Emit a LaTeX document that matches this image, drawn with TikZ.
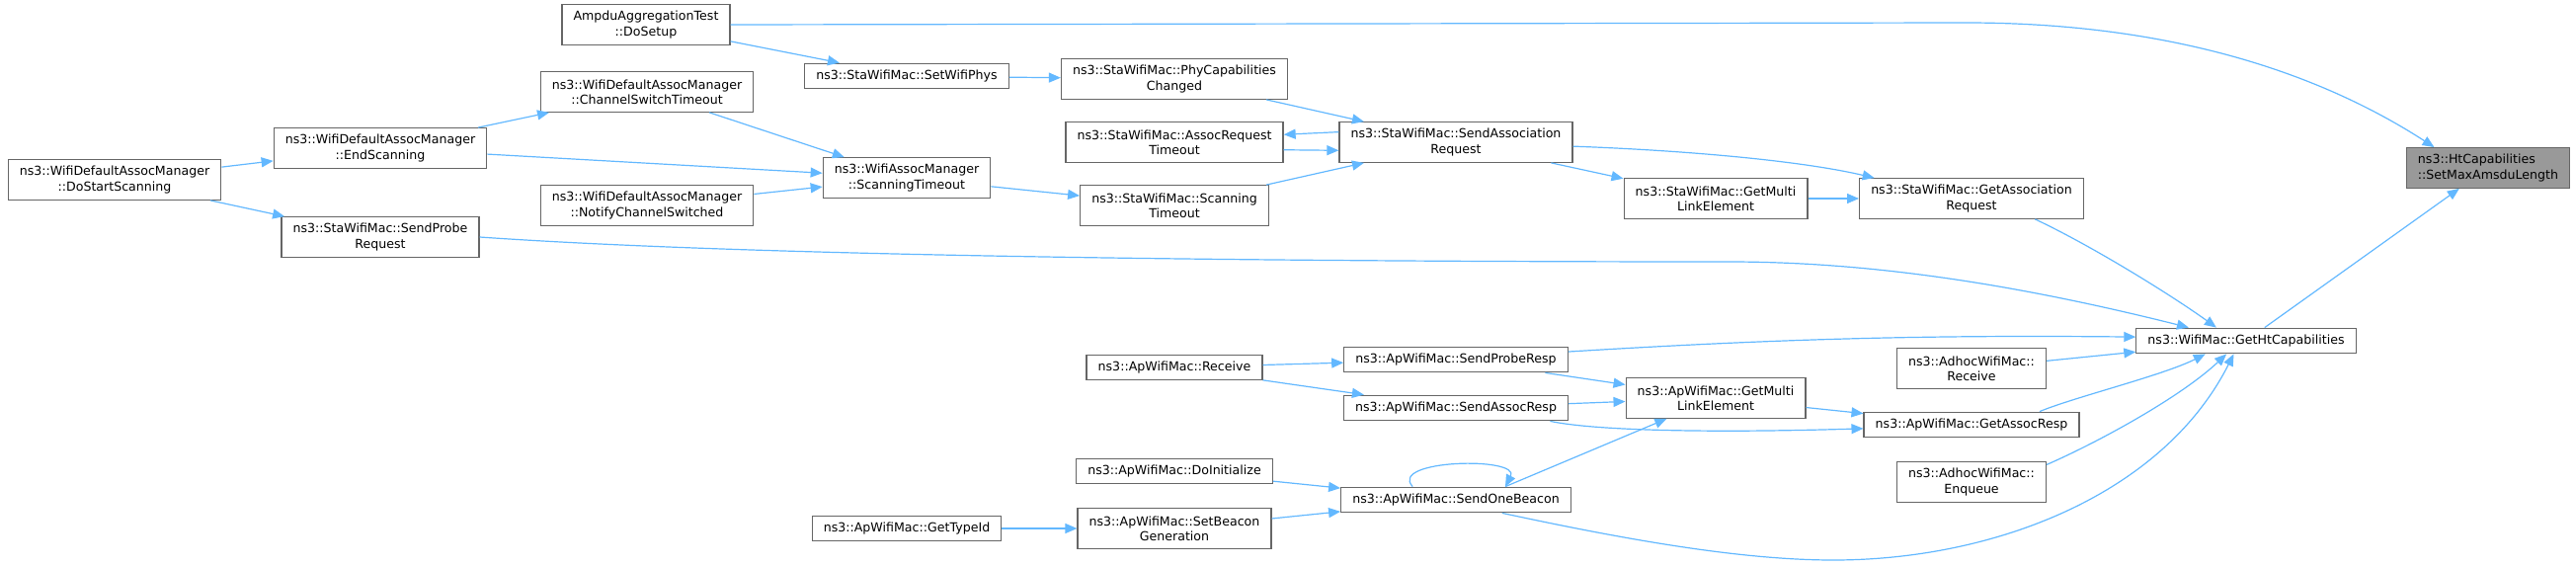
\documentclass[tikz,border=0pt]{standalone}
\usepackage{fontspec}
\setmainfont{DejaVu Sans}
\usetikzlibrary{arrows.meta}
\definecolor{edgeblue}{HTML}{63B8FF}
\definecolor{boxgray}{HTML}{666666}
\definecolor{rootgray}{HTML}{999999}
\tikzset{fnbox/.style={draw=boxgray,fill=white,line width=0.6pt,font=\fontsize{6.3pt}{7.65pt}\selectfont,align=center,inner xsep=5.8pt,inner ysep=1pt,minimum height=12.8pt}}
\tikzset{fnbox2/.style={fnbox,minimum height=20.3pt}}
\tikzset{call/.style={draw=edgeblue,line width=0.6pt,-{Triangle[length=6pt,width=5pt]}}}

\begin{document}
\begin{tikzpicture}[x=0.5pt,y=-0.5pt]
	\useasboundingbox (0,0) rectangle (2608,573);
	%% left part: association manager
	\node[fnbox2] (dosetup) at (654,25) {AmpduAggregationTest\\::DoSetup};
	\node[fnbox2] (chanswitch) at (655,93) {ns3::WifiDefaultAssocManager\\::ChannelSwitchTimeout};
	\node[fnbox2] (endscan) at (385,150) {ns3::WifiDefaultAssocManager\\::EndScanning};
	\node[fnbox2] (dostart) at (116,182) {ns3::WifiDefaultAssocManager\\::DoStartScanning};
	\node[fnbox2] (notifysw) at (655,208) {ns3::WifiDefaultAssocManager\\::NotifyChannelSwitched};
	\node[fnbox2] (sendprobereq) at (385,240) {ns3::StaWifiMac::SendProbe\\Request};
	\node[fnbox] (setwifiphys) at (918,77) {ns3::StaWifiMac::SetWifiPhys};
	\node[fnbox2] (wamscan) at (918,180) {ns3::WifiAssocManager\\::ScanningTimeout};
	%% sta side
	\node[fnbox2] (phycap) at (1189,80) {ns3::StaWifiMac::PhyCapabilities\\Changed};
	\node[fnbox2] (assocto) at (1189,144) {ns3::StaWifiMac::AssocRequest\\Timeout};
	\node[fnbox2] (stascan) at (1189,208) {ns3::StaWifiMac::Scanning\\Timeout};
	\node[fnbox2] (sendassoc) at (1474,144) {ns3::StaWifiMac::SendAssociation\\Request};
	\node[fnbox2] (stagetml) at (1737,201) {ns3::StaWifiMac::GetMulti\\LinkElement};
	\node[fnbox2] (getassocreq) at (1996,201) {ns3::StaWifiMac::GetAssociation\\Request};
	%% ap side
	\node[fnbox] (gettypeid) at (918,535) {ns3::ApWifiMac::GetTypeId};
	\node[fnbox] (aprecv) at (1189,372) {ns3::ApWifiMac::Receive};
	\node[fnbox] (doinit) at (1189,477) {ns3::ApWifiMac::DoInitialize};
	\node[fnbox2] (setbeacon) at (1189,535) {ns3::ApWifiMac::SetBeacon\\Generation};
	\node[fnbox] (sendproberesp) at (1474,364) {ns3::ApWifiMac::SendProbeResp};
	\node[fnbox] (sendassocresp) at (1474,413) {ns3::ApWifiMac::SendAssocResp};
	\node[fnbox] (sendbeacon) at (1474,506) {ns3::ApWifiMac::SendOneBeacon};
	\node[fnbox2] (apgetml) at (1737,403) {ns3::ApWifiMac::GetMulti\\LinkElement};
	\node[fnbox2] (adhocrecv) at (1996,373) {ns3::AdhocWifiMac::\\Receive};
	\node[fnbox] (getassocresp) at (1996,430) {ns3::ApWifiMac::GetAssocResp};
	\node[fnbox2] (adhocenq) at (1996,488) {ns3::AdhocWifiMac::\\Enqueue};
	%% right part
	\node[fnbox] (getht) at (2274,345) {ns3::WifiMac::GetHtCapabilities};
	\node[fnbox2,fill=rootgray,align=left] (setmaxamsdu) at (2519,170) {ns3::HtCapabilities\\::SetMaxAmsduLength};

	%% calls
	\draw[call] (dosetup.east) -- (1990,23) .. controls (2200,23) and (2350,75) .. (setmaxamsdu.159);
	\draw[call] (dosetup) -- (setwifiphys);
	\draw[call] (setwifiphys) -- (phycap);
	\draw[call] (phycap) -- (sendassoc);
	\draw[call] (sendassoc.175.7) -- (assocto.4.6);
	\draw[call] (assocto.-4.6) -- (sendassoc.184.3);
	\draw[call] (stascan) -- (sendassoc);
	\draw[call] (wamscan) -- (stascan);
	\draw[call] (chanswitch) -- (wamscan);
	\draw[call] (endscan) -- (chanswitch);
	\draw[call] (endscan) -- (wamscan);
	\draw[call] (notifysw) -- (wamscan);
	\draw[call] (dostart) -- (endscan);
	\draw[call] (dostart) -- (sendprobereq);
	\draw[call] (sendprobereq.east) .. controls (800,262) and (1400,265) .. (1750,265) .. controls (1900,265) and (2050,290) .. (getht.167.6);
	\draw[call] (sendassoc.-2) .. controls (1700,152) and (1820,162) .. (getassocreq.168.6);
	\draw[call] (sendassoc) -- (stagetml);
	\draw[call] (stagetml) -- (getassocreq);
	\draw[call] (getassocreq.-18.7) .. controls (2120,250) and (2200,300) .. (getht.156.6);
	\draw[call] (getht) -- (setmaxamsdu);
	%%
	\draw[call] (sendproberesp.4) .. controls (1800,343) and (1950,339) .. (getht.178.5);
	\draw[call] (adhocrecv) -- (getht);
	\draw[call] (getassocresp.11.1) .. controls (2100,402) and (2190,380) .. (getht.198.9);
	\draw[call] (adhocenq.13.3) .. controls (2130,445) and (2210,400) .. (getht.214.4);
	\draw[call] (sendbeacon.-16.6) .. controls (1640,545) and (1760,567) .. (1856,567) .. controls (2020,567) and (2190,500) .. (getht.227.3);
	\draw[call] (aprecv) -- (sendproberesp);
	\draw[call] (aprecv) -- (sendassocresp);
	\draw[call] (sendproberesp) -- (apgetml);
	\draw[call] (sendassocresp) -- (apgetml);
	\draw[call] (sendassocresp.-8.6) .. controls (1620,437) and (1750,438) .. (getassocresp.182);
	\draw[call] (sendbeacon.15) -- (apgetml);
	\draw[call] (apgetml) -- (getassocresp);
	\draw[call] (sendbeacon.163) .. controls (1405,465) and (1540,462) .. (sendbeacon.15.5);
	\draw[call] (doinit) -- (sendbeacon);
	\draw[call] (setbeacon) -- (sendbeacon);
	\draw[call] (gettypeid) -- (setbeacon);
\end{tikzpicture}
\end{document}
